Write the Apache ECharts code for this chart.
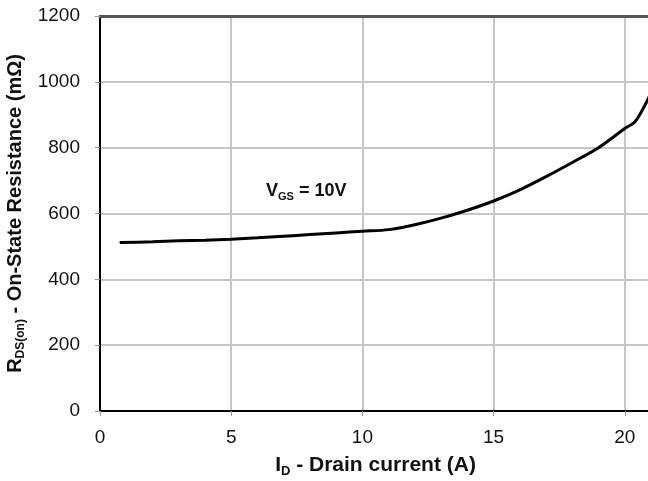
<!DOCTYPE html>
<html><head><meta charset="utf-8">
<script src="https://cdn.jsdelivr.net/npm/echarts@6/dist/echarts.min.js"></script>
<style>html,body{margin:0;padding:0;background:#fff}#c{width:648px;height:481px}</style>
</head><body><div id="c"></div>
<script>
const drainCurrent = [0.75, 2, 3, 4, 5, 6, 7, 8, 9, 10, 11, 12, 13, 14, 15, 16, 17, 18, 19, 20, 20.4, 20.9, 21.2];
const resistance   = [512, 514, 517, 519, 522, 526, 531, 536, 541, 546, 551, 566, 586, 610, 638, 672, 712, 755, 800, 858, 880, 950, 1010];
const xTicks = [0, 5, 10, 15, 20];
const yTicks = [0, 200, 400, 600, 800, 1000, 1200];

const chart = echarts.init(document.getElementById('c'));
const font = 'Liberation Sans, Arial, sans-serif';
const rich = (big, small, pad) => ({
  b: { fontFamily: font, fontWeight: 'bold', fontSize: big, color: '#111' },
  s: { fontFamily: font, fontWeight: 'bold', fontSize: small, color: '#111', verticalAlign: 'bottom', padding: [pad, 0, 0, 0] }
});
chart.setOption({
  animation: false,
  grid: { left: 100, right: -3, top: 16, bottom: 70, outerBoundsMode: 'none', containLabel: false },
  title: {
    left: 261, top: 175,
    text: '{b|V}{s|GS}{b| = 10V}',
    textStyle: { rich: rich(18, 11, 11) }
  },
  xAxis: [{
    type: 'value', min: 0, max: 21, interval: 5,
    axisLine: { lineStyle: { color: '#000', width: 2 } },
    axisTick: { show: true, length: 5, lineStyle: { color: '#999', width: 1 } },
    splitLine: { show: true, lineStyle: { color: '#c6c6c6', width: 2 } },
    axisLabel: { showMaxLabel: false, margin: 17, fontFamily: font, fontSize: 19, color: '#111',
      formatter: v => xTicks.includes(v) ? String(v) : '' },
    name: '{b|I}{s|D}{b| - Drain current (A)}',
    nameLocation: 'middle', nameGap: 42,
    nameTextStyle: { rich: rich(21, 13, 12) }
  }, {
    type: 'value', position: 'top', min: 0, max: 21,
    axisLine: { show: true, onZero: false, lineStyle: { color: '#555', width: 3 } },
    axisTick: { show: false }, axisLabel: { show: false }, splitLine: { show: false }
  }],
  yAxis: {
    type: 'value', min: 0, max: 1200, interval: 200,
    axisLine: { show: true, lineStyle: { color: '#000', width: 2 } },
    axisTick: { show: true, length: 5, lineStyle: { color: '#999', width: 1 } },
    splitLine: { show: true, lineStyle: { color: '#c6c6c6', width: 2 } },
    axisLabel: { margin: 20, fontFamily: font, fontSize: 19, color: '#111',
      formatter: v => yTicks.includes(v) ? String(v) : '' },
    name: '{b|R}{s|DS(on)}{b| - On-State Resistance (mΩ)}',
    nameLocation: 'middle', nameGap: 66, nameRotate: 90,
    nameTextStyle: { rich: rich(20, 12, 11) }
  },
  series: [{
    type: 'line', xAxisIndex: 0, showSymbol: false, smooth: 0.3,
    clip: true,
    lineStyle: { color: '#000', width: 3 },
    data: drainCurrent.map((x, i) => [x, resistance[i]])
  }]
});
</script></body></html>
